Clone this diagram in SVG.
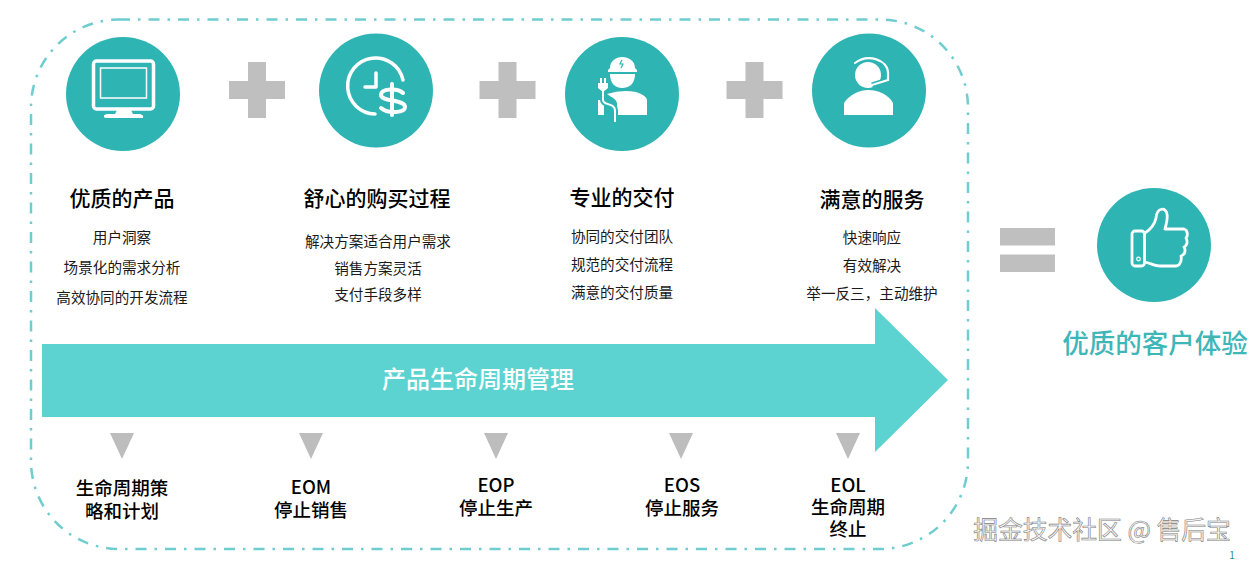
<svg xmlns="http://www.w3.org/2000/svg" width="1250" height="561" viewBox="0 0 1250 561">
<style>
text{font-family:"Noto Sans CJK SC","Noto Sans",sans-serif;text-anchor:middle;fill:#000}
.t{font-size:21px;font-weight:500}
.s{font-size:14.600px;fill:#1a1a1a}
.b{font-size:18.500px;font-weight:500}
.c{fill:#2fb4b4}
.g{fill:#bfbfbf}
.w{fill:#fff}
.l{fill:none;stroke:#fff;stroke-width:3.500;stroke-linecap:round;stroke-linejoin:round}
.tri{fill:#bdbdbd}
</style>
<defs>
<path id="plus" class="g" d="M-9-28H9V-9H28V9H9V28H-9V9H-28V-9H-9Z"/>
<path id="tri" class="tri" d="M-12 0H12L0 26Z"/>
</defs>
<g id="connectors">
<rect id="boundary" x="31" y="19.500" width="937" height="529.500" rx="88" fill="none" stroke="#6fcdcf" stroke-width="2.500" stroke-dasharray="11 8 2.500 8"/>
<path id="lifecycle-arrow" fill="#5dd3d1" d="M42 344H875V308L948 380L875 452V417H42Z"/>
<use href="#plus" x="257" y="90"/>
<use href="#plus" x="507.500" y="90"/>
<use href="#plus" x="754.500" y="90"/>
<rect x="1000" y="228" width="55" height="17.500" class="g"/>
<rect x="1000" y="254.500" width="55" height="17.500" class="g"/>
<use href="#tri" x="122" y="433"/>
<use href="#tri" x="311" y="433"/>
<use href="#tri" x="496" y="433"/>
<use href="#tri" x="681" y="433"/>
<use href="#tri" x="848" y="433"/>
</g>
<g id="node-product">
<circle class="c" cx="123" cy="94" r="57"/>
<rect class="l" x="93.500" y="61" width="60" height="48" rx="3"/>
<rect x="100.500" y="68" width="46" height="30" fill="none" stroke="#fff" stroke-width="1.500"/>
<path class="w" d="M117 110H131L133 114H140Q144 115 143 118H105Q102 115 107 114H115Z"/>
<text class="t" x="122" y="206">优质的产品</text>
<text class="s" x="122" y="242.500">用户洞察</text>
<text class="s" x="122" y="272.500">场景化的需求分析</text>
<text class="s" x="122" y="302.500">高效协同的开发流程</text>
</g>
<g id="node-purchase">
<circle class="c" cx="376" cy="90.500" r="57"/>
<path class="l" d="M403 80A28 28 0 1 0 375 114"/>
<path class="l" d="M376 73V87H365"/>
<path d="M403 93C398 88 381 88 381 95C381 102 405 99 405 107C405 113 388 114 381 108" fill="none" stroke="#fff" stroke-width="4" stroke-linecap="round"/>
<path d="M392 84V115" fill="none" stroke="#fff" stroke-width="4" stroke-linecap="round"/>
<text class="t" x="377" y="205.500">舒心的购买过程</text>
<text class="s" x="378" y="246.500">解决方案适合用户需求</text>
<text class="s" x="378" y="273.500">销售方案灵活</text>
<text class="s" x="378" y="299.500">支付手段多样</text>
</g>
<g id="node-delivery">
<circle class="c" cx="622" cy="94" r="57"/>
<path class="w" d="M610 68C610 61 616 57 622 57C629 57 635 61 635 68L637 70V72H608V70Z"/>
<path d="M622 60L620 64H623L621 68" fill="none" stroke="#2fb4b4" stroke-width="1.200"/>
<path class="w" d="M610 74H635C635 83 630 88 622 88C615 88 610 83 610 74Z"/>
<path class="w" d="M607 94Q622 89 636 92Q646 95 647 100V115H617V104C617 99 611 97 607 94ZM598 100H604V115H598Z"/>
<path d="M603 88V100C603 106 615 102 615 111V122" fill="none" stroke="#2fb4b4" stroke-width="6"/>
<path d="M603 88V100C603 106 615 102 615 111V122" fill="none" stroke="#fff" stroke-width="2"/>
<path class="w" d="M600 78H602V83H604V78H606V83H608V88L603 92L598 88V83H600Z"/>
<text class="t" x="622" y="205">专业的交付</text>
<text class="s" x="622" y="241.500">协同的交付团队</text>
<text class="s" x="622" y="269.500">规范的交付流程</text>
<text class="s" x="622" y="297.500">满意的交付质量</text>
</g>
<g id="node-service">
<circle class="c" cx="869" cy="90.500" r="57"/>
<circle class="w" cx="868" cy="75" r="13"/>
<path class="w" d="M844 115V103C850 94 860 90 868 90C878 90 888 94 893 103V115Z"/>
<path d="M855 63C868 53 888 60 888 73V80L872 85" fill="none" stroke="#2fb4b4" stroke-width="5.500"/>
<path d="M855 63C868 53 888 60 888 73V80L872 85" fill="none" stroke="#fff" stroke-width="2.200" stroke-linecap="round"/>
<text class="t" x="872" y="206.500">满意的服务</text>
<text class="s" x="872" y="242.500">快速响应</text>
<text class="s" x="872" y="270.500">有效解决</text>
<text class="s" x="872" y="298.500">举一反三，主动维护</text>
</g>
<g id="node-experience">
<circle class="c" cx="1154" cy="245" r="57"/>
<path class="l" style="stroke-width:2.800px" d="M1145 233C1150 230 1155 224 1156 218C1157 207 1166 207 1167 214C1168 220 1166 225 1165 229H1184C1188 230 1188 236 1186 238C1188 241 1187 246 1184 247C1186 250 1185 255 1181 256C1182 260 1180 266 1176 266H1160C1155 266 1150 263 1145 262"/>
<rect class="l" style="stroke-width:2.800px" x="1132" y="231" width="12.500" height="35" rx="3"/>
<circle cx="1138.500" cy="259" r="1.800" fill="none" stroke="#fff" stroke-width="1.200"/>
<text x="1155" y="353" style="font-size:26.500px;fill:#3fb6b8;font-weight:500">优质的客户体验</text>
</g>
<g id="node-lifecycle-title"><text x="478" y="387.500" style="font-size:24px;fill:#fff;font-weight:500">产品生命周期管理</text></g>
<g id="node-plan"><text class="b" x="122" y="495"><tspan x="122">生命周期策</tspan><tspan x="122" dy="23">略和计划</tspan></text></g>
<g id="node-eom"><text class="b" x="311" y="494"><tspan x="311">EOM</tspan><tspan x="311" dy="23">停止销售</tspan></text></g>
<g id="node-eop"><text class="b" x="496" y="492"><tspan x="496">EOP</tspan><tspan x="496" dy="23">停止生产</tspan></text></g>
<g id="node-eos"><text class="b" x="682" y="492"><tspan x="682">EOS</tspan><tspan x="682" dy="23">停止服务</tspan></text></g>
<g id="node-eol"><text class="b" x="848" y="492"><tspan x="848">EOL</tspan><tspan x="848" dy="22">生命周期</tspan><tspan x="848" dy="22">终止</tspan></text></g>
<g id="watermark">
<text x="1102" y="539" style="font-size:24.800px;fill:#f5f5f5;stroke:#808080;stroke-width:.6px">掘金技术社区 @ 售后宝</text>
</g>
<text x="1232" y="559" style="font-size:10px;fill:#2a8f96">1</text>
</svg>
